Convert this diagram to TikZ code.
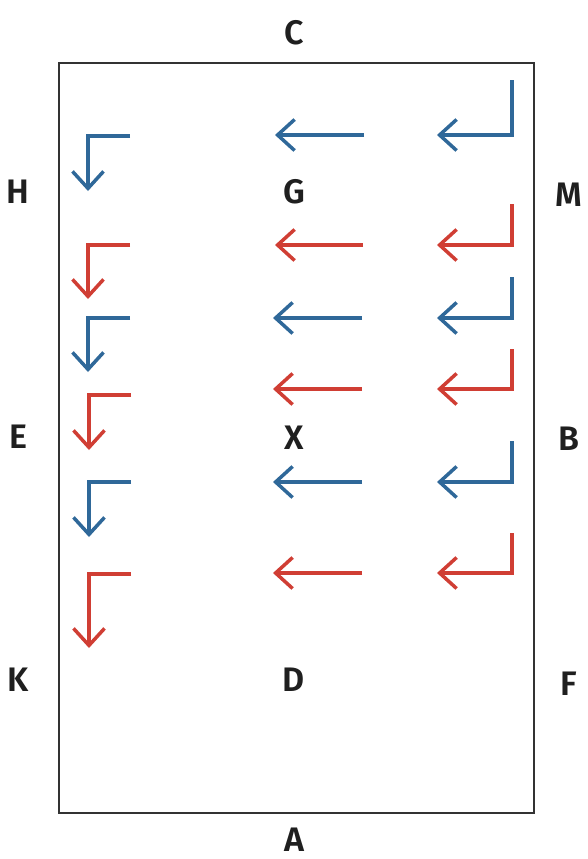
\documentclass[tikz,border=0pt]{standalone}
\usepackage{fontspec}
\setmainfont{Fira Sans}[BoldFont={Fira Sans SemiBold}]
\usetikzlibrary{arrows.meta}
\definecolor{arenablue}{RGB}{47,104,153}
\definecolor{arenared}{RGB}{208,62,52}

\begin{document}
\begin{tikzpicture}[x=1pt,y=-1pt,
      letter/.style={inner sep=0pt,font=\fontsize{34}{34}\selectfont\bfseries,text=black!88},
      turn/.style={line width=3.5pt,-{Straight Barb[length=17pt,width=31pt]}},
      bluemove/.style={turn,draw=arenablue},
      redmove/.style={turn,draw=arenared},
      ]
      \useasboundingbox (0,0) rectangle (587,859);
      \draw[line width=2pt,draw=black!80] (59,63) rectangle (534,813);
      % arena letters
      \node[letter] (C) at (294,33) {C};
      \node[letter] (A) at (294,840) {A};
      \node[letter] (H) at (18,192) {H};
      \node[letter] (G) at (294,192) {G};
      \node[letter] (M) at (569,195) {M};
      \node[letter] (E) at (18,437) {E};
      \node[letter] (X) at (294,438) {X};
      \node[letter] (B) at (569,439) {B};
      \node[letter] (K) at (18,680) {K};
      \node[letter] (D) at (294,680) {D};
      \node[letter] (F) at (569,684) {F};
      % right track
      \draw[bluemove] (512,80) |- (437,135);
      \draw[redmove] (512,204) |- (437,245);
      \draw[bluemove] (512,277) |- (437,318);
      \draw[redmove] (512,349) |- (437,389);
      \draw[bluemove] (512,441) |- (437,482);
      \draw[redmove] (512,533) |- (437,573);
      % centre line
      \draw[bluemove] (364,135) -- (275,135);
      \draw[redmove] (363,245) -- (275,245);
      \draw[bluemove] (362,318) -- (273,318);
      \draw[redmove] (362,389) -- (273,389);
      \draw[bluemove] (362,482) -- (273,482);
      \draw[redmove] (362,573) -- (273,573);
      % left track
      \draw[bluemove] (130,136) -| (88,191);
      \draw[redmove] (130,245) -| (88,299);
      \draw[bluemove] (130,318) -| (88,372);
      \draw[redmove] (131,395) -| (89,450);
      \draw[bluemove] (131,482) -| (89,537);
      \draw[redmove] (131,574) -| (89,648);
    \end{tikzpicture}
\end{document}
